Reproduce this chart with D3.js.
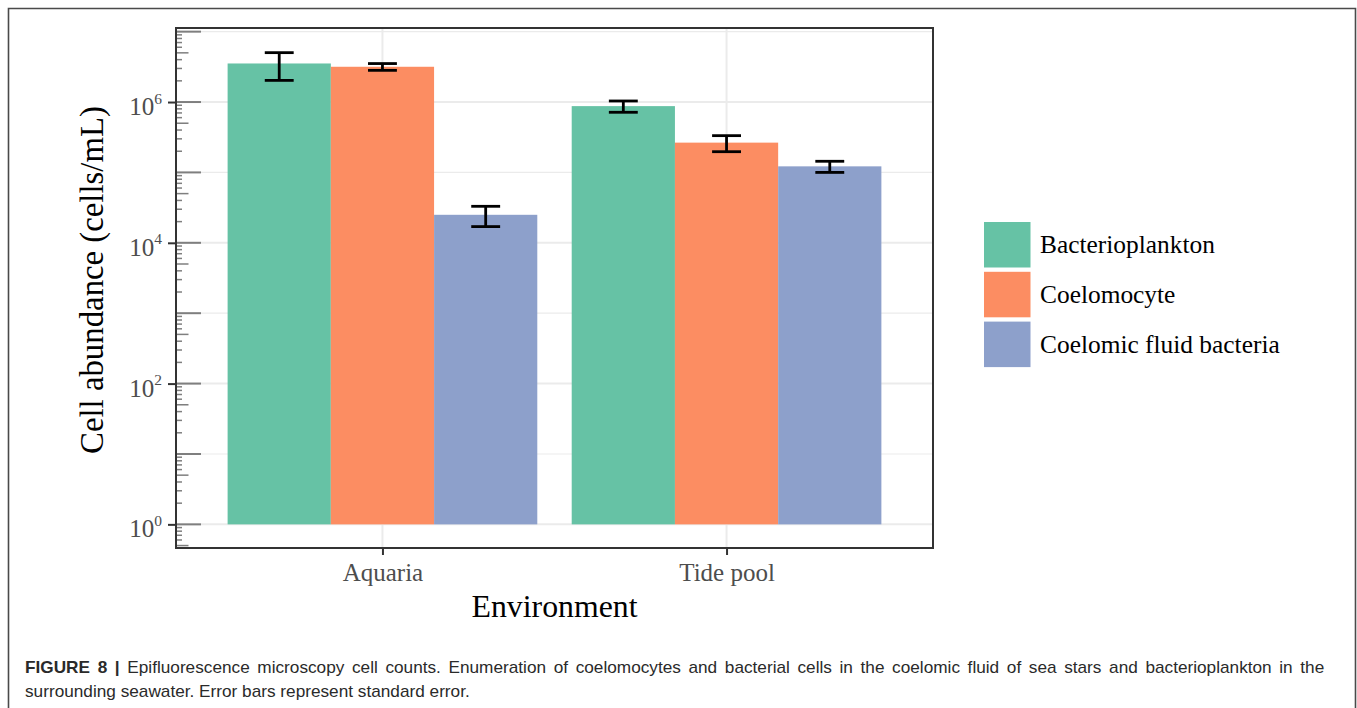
<!DOCTYPE html>
<html>
<head>
<meta charset="utf-8">
<script src="https://cdn.jsdelivr.net/npm/d3@7"></script>
<style>
  html, body { margin: 0; padding: 0; background: #fff; }
  svg { display: block; }
</style>
</head>
<body>
<script>
// Cell counts per environment (cells/mL), with standard errors
const categories = ["Aquaria", "Tide pool"];
const seriesNames = ["Bacterioplankton", "Coelomocyte", "Coelomic fluid bacteria"];
const bacterioplanktonMean = [3.53e6, 8.75e5];
const bacterioplanktonSE   = [1.50e6, 1.60e5];
const coelomocyteMean      = [3.17e6, 2.65e5];
const coelomocyteSE        = [3.5e5, 6.8e4];
const fluidBacteriaMean    = [2.50e4, 1.22e5];
const fluidBacteriaSE      = [8.0e3, 2.2e4];
const yTickExponents = [0, 2, 4, 6];
const seriesColors = ["#66c2a5", "#fc8d62", "#8da0cb"];
const captionBold = "FIGURE 8 |";
const captionLine1 = " Epifluorescence microscopy cell counts. Enumeration of coelomocytes and bacterial cells in the coelomic fluid of sea stars and bacterioplankton in the";
const captionLine2 = "surrounding seawater. Error bars represent standard error.";

const means = [bacterioplanktonMean, coelomocyteMean, fluidBacteriaMean];
const ses = [bacterioplanktonSE, coelomocyteSE, fluidBacteriaSE];
const rows = [];
seriesNames.forEach((s, si) => categories.forEach((c, ci) => {
  rows.push({ series: s, cat: c, mean: means[si][ci], se: ses[si][ci], color: seriesColors[si] });
}));

const W = 1357, H = 708;
const svg = d3.select("body").append("svg").attr("width", W).attr("height", H);
const serif = "'Liberation Serif', 'Times New Roman', serif";

// figure frame (open at the bottom)
svg.append("path")
  .attr("d", `M8.5,${H} V8.5 H1355.5 V${H}`)
  .attr("fill", "none").attr("stroke", "#4a4a4a").attr("stroke-width", 1.6);

const panel = { left: 176, right: 933, top: 28, bottom: 548 };

// log y-scale with 5% expansion around [1, 5.2e6]
const lo = 0, hi = Math.log10(5.2e6);
const pad = (hi - lo) * 0.05;
const y = d3.scaleLog()
  .domain([Math.pow(10, lo - pad), Math.pow(10, hi + pad)])
  .range([panel.bottom, panel.top]);

const x = d3.scalePoint().domain(categories)
  .range([panel.left, panel.right]).padding(0.6);
const step = x.step();
const dodge = d3.scaleBand().domain(seriesNames)
  .range([-0.45 * step, 0.45 * step]).padding(0);

const g = svg.append("g");

// grid lines: decades, with thinner odd decades
const decades = d3.range(0, 8);
g.selectAll("line.hgrid").data(decades).join("line")
  .attr("x1", panel.left).attr("x2", panel.right)
  .attr("y1", d => y(Math.pow(10, d))).attr("y2", d => y(Math.pow(10, d)))
  .attr("stroke", "#ebebeb").attr("stroke-width", d => d % 2 === 0 ? 2 : 1.2);
g.selectAll("line.vgrid").data(categories).join("line")
  .attr("x1", d => x(d)).attr("x2", d => x(d))
  .attr("y1", panel.top).attr("y2", panel.bottom)
  .attr("stroke", "#ebebeb").attr("stroke-width", 2);

// bars
g.selectAll("rect.bar").data(rows).join("rect")
  .attr("x", d => x(d.cat) + dodge(d.series))
  .attr("width", dodge.bandwidth())
  .attr("y", d => y(d.mean))
  .attr("height", d => y(1) - y(d.mean))
  .attr("fill", d => d.color);

// log ticks along the left edge of the panel
const logTicks = [];
for (let e = -1; e <= 7; e++) {
  for (let k = 1; k <= 9; k++) {
    const v = k * Math.pow(10, e);
    const [d0, d1] = y.domain();
    if (v >= d0 && v <= d1) logTicks.push({ v, k });
  }
}
g.selectAll("line.logtick").data(logTicks).join("line")
  .attr("x1", panel.left)
  .attr("x2", d => panel.left + (d.k === 1 ? 25 : d.k === 5 ? 12.5 : 6))
  .attr("y1", d => y(d.v)).attr("y2", d => y(d.v))
  .attr("stroke", "#7f7f7f").attr("stroke-width", d => d.k === 1 ? 2 : 1.5);

// error bars
const capW = dodge.bandwidth() * 0.28;
const eb = g.selectAll("g.err").data(rows).join("g")
  .attr("transform", d => `translate(${x(d.cat) + dodge(d.series) + dodge.bandwidth() / 2},0)`);
eb.append("line")
  .attr("y1", d => y(d.mean + d.se)).attr("y2", d => y(d.mean - d.se))
  .attr("stroke", "#000").attr("stroke-width", 2.8);
eb.append("line")
  .attr("x1", -capW / 2).attr("x2", capW / 2)
  .attr("y1", d => y(d.mean + d.se)).attr("y2", d => y(d.mean + d.se))
  .attr("stroke", "#000").attr("stroke-width", 2.8);
eb.append("line")
  .attr("x1", -capW / 2).attr("x2", capW / 2)
  .attr("y1", d => y(d.mean - d.se)).attr("y2", d => y(d.mean - d.se))
  .attr("stroke", "#000").attr("stroke-width", 2.8);

// panel border
g.append("rect")
  .attr("x", panel.left).attr("y", panel.top)
  .attr("width", panel.right - panel.left).attr("height", panel.bottom - panel.top)
  .attr("fill", "none").attr("stroke", "#333").attr("stroke-width", 2);

// y axis
const yAxis = d3.axisLeft(y)
  .tickValues(yTickExponents.map(e => Math.pow(10, e)))
  .tickSize(8).tickPadding(6).tickFormat("");
const yAx = svg.append("g").attr("transform", `translate(${panel.left},0)`).call(yAxis);
yAx.select(".domain").remove();
yAx.selectAll(".tick line").attr("stroke", "#333").attr("stroke-width", 2);
yAx.selectAll(".tick").each(function (d) {
  const t = d3.select(this).append("text")
    .attr("x", -14).attr("y", 12.6)
    .attr("text-anchor", "end")
    .attr("fill", "#4d4d4d")
    .style("font-family", serif).style("font-size", "25px");
  t.append("tspan").text("10");
  t.append("tspan").attr("dy", -11.6).style("font-size", "15.5px")
    .text(Math.round(Math.log10(d)));
});

// x axis
const xAxis = d3.axisBottom(x).tickSize(7).tickPadding(8);
const xAx = svg.append("g").attr("transform", `translate(0,${panel.bottom})`).call(xAxis);
xAx.select(".domain").remove();
xAx.selectAll(".tick line").attr("stroke", "#333").attr("stroke-width", 2);
xAx.selectAll(".tick text")
  .attr("y", 33).attr("dy", 0)
  .attr("fill", "#4d4d4d")
  .style("font-family", serif).style("font-size", "25px");

// axis titles
svg.append("text")
  .attr("x", (panel.left + panel.right) / 2).attr("y", 617)
  .attr("text-anchor", "middle")
  .style("font-family", serif).style("font-size", "31.8px")
  .text("Environment");
svg.append("text")
  .attr("transform", `translate(103,280) rotate(-90)`)
  .attr("text-anchor", "middle")
  .style("font-family", serif).style("font-size", "32.8px")
  .text("Cell abundance (cells/mL)");

// legend
const legend = svg.append("g").attr("transform", "translate(984,222)");
const li = legend.selectAll("g").data(seriesNames).join("g")
  .attr("transform", (d, i) => `translate(0,${i * 49.8})`);
li.append("rect").attr("width", 46.5).attr("height", 45.5)
  .attr("fill", (d, i) => seriesColors[i]);
li.append("text").attr("x", 56).attr("y", 31)
  .style("font-family", serif).style("font-size", "25.4px")
  .text(d => d);

// caption: first line justified to the full width
const capLeft = 25, capRight = 1325, line2Right = 470;
const cap = svg.append("g")
  .style("font-family", "'Liberation Sans', Arial, sans-serif")
  .style("font-size", "16px").attr("fill", "#2a2a2a");
const l1 = cap.append("text").attr("y", 673);
l1.append("tspan").style("font-weight", "bold").text(captionBold);
l1.append("tspan").text(captionLine1);
const l2 = cap.append("text").attr("y", 697).text(captionLine2);
const sx = (line2Right - capLeft) / l2.node().getComputedTextLength();
const natural1 = l1.node().getComputedTextLength() * sx;
const spaces = (captionBold + captionLine1).split(" ").length - 1;
const extra = Math.max(0, (capRight - capLeft - natural1) / spaces / sx);
l1.style("word-spacing", `${extra}px`);
cap.attr("transform", `translate(${capLeft},0) scale(${sx},1)`);
</script>
</body>
</html>
